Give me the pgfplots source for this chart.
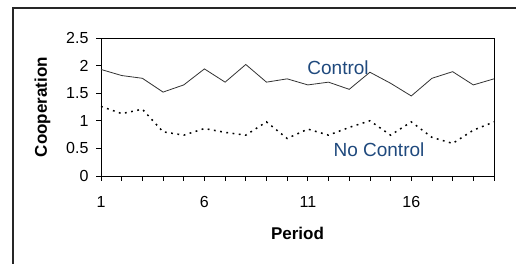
\documentclass[border=0pt]{standalone}
\usepackage{pgfplots}
\pgfplotsset{compat=1.18}
\usepackage{fontspec}
\setmainfont{Liberation Sans}
\definecolor{lblblue}{RGB}{31,73,125}
\definecolor{ctrl}{RGB}{50,50,50}
\begin{document}
\begin{tikzpicture}[x=1pt,y=1pt]
\useasboundingbox (0,0) rectangle (516,264);
\draw[line width=1.5pt,black!85] (13,-5) -- (13,256) -- (520,256);
\begin{axis}[
  at={(101pt,88pt)}, anchor=south west,
  scale only axis, width=393pt, height=138pt,
  xmin=1, xmax=20, ymin=0, ymax=2.5,
  xtick={1,6,11,16}, minor xtick={2,3,4,5,7,8,9,10,12,13,14,15,17,18,19,20},
  ytick={0,0.5,1,1.5,2,2.5},
  tick align=outside, tick pos=left,
  major tick length=5pt, minor tick length=5pt,
  every tick/.style={black, line width=0.8pt},
  minor tick style={black, line width=0.8pt},
  axis line style={black, line width=0.9pt},
  /pgf/number format/assume math mode=true,
  ticklabel style={font=\fontsize{16}{16}\selectfont},
  xticklabel style={yshift=-12pt},
  yticklabel style={xshift=-4pt},
  xlabel={\textbf{Period}}, ylabel={\textbf{Cooperation}},
  label style={font=\fontsize{17}{17}\selectfont},
  xlabel style={at={(ticklabel cs:0.5)}, yshift=-12pt},
  ylabel style={yshift=9pt},
  clip=false,
]
\addplot[ctrl, line width=0.8pt] coordinates {
(1,1.93) (2,1.82) (3,1.77) (4,1.52) (5,1.65) (6,1.94) (7,1.70) (8,2.02) (9,1.70) (10,1.76)
(11,1.65) (12,1.70) (13,1.57) (14,1.88) (15,1.68) (16,1.45) (17,1.77) (18,1.89) (19,1.65) (20,1.76)};
\addplot[black, line width=1.5pt, dash pattern=on 1.8pt off 4.5pt] coordinates {
(1,1.26) (2,1.13) (3,1.21) (4,0.80) (5,0.74) (6,0.86) (7,0.79) (8,0.74) (9,0.98) (10,0.68)
(11,0.85) (12,0.74) (13,0.88) (14,1.00) (15,0.74) (16,0.98) (17,0.70) (18,0.59) (19,0.83) (20,0.98)};
\node[lblblue, font=\fontsize{19}{19}\selectfont] at (axis cs:12.46,1.97) {Control};
\node[lblblue, font=\fontsize{19}{19}\selectfont] at (axis cs:14.44,0.47) {No Control};
\end{axis}
\end{tikzpicture}
\end{document}
